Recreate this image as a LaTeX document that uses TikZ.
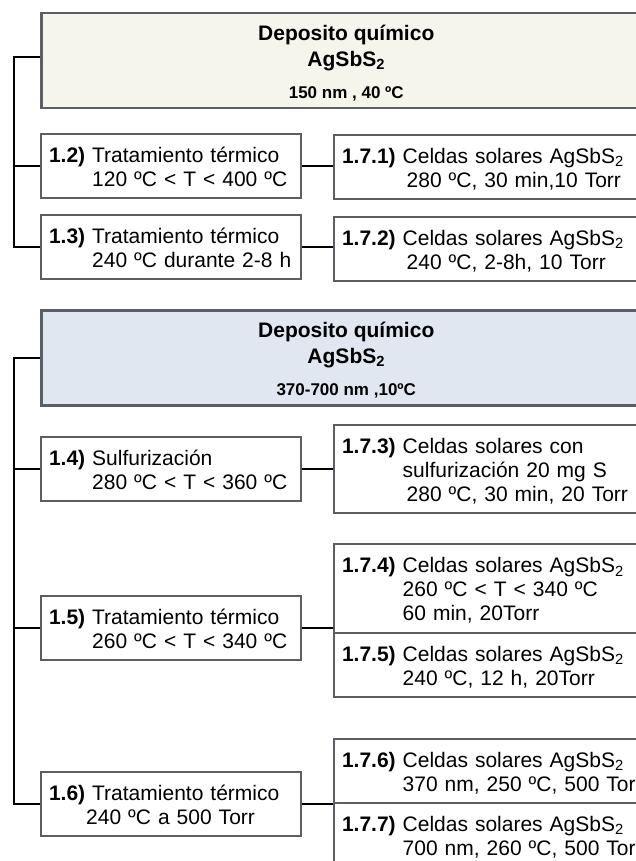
\documentclass[tikz,border=0pt]{standalone}
\usepackage{fontspec}
\setmainfont{Liberation Sans}

\definecolor{crema}{HTML}{F6F5EC}
\definecolor{azulclaro}{HTML}{E0E7F0}
\definecolor{borde}{HTML}{5B5E64}

\tikzset{
    caja/.style={draw=borde, line width=2pt, fill=white, anchor=north west,
        minimum height=64pt, inner xsep=8pt, inner ysep=0pt, text width=244pt,
        align=left, text depth=0pt, font=\fontsize{21}{24}\selectfont},
    celda/.style={caja, text width=311pt},
    deposito/.style={draw=borde, line width=2.5pt, anchor=north west,
        minimum width=610pt, minimum height=95pt, inner sep=0pt, text depth=0pt,
        font=\bfseries\fontsize{21}{24}\selectfont},
    enlace/.style={black, line width=2pt}
}

\begin{document}
\begin{tikzpicture}[x=1pt, y=-1pt]
    \useasboundingbox (0,0) rectangle (636,861);
    \clip (0,0) rectangle (636,861);

    % Primer deposito
    \node[deposito, fill=crema] (dep1) at (40,12) {\begin{tabular}[b]{@{}c@{}}
        Deposito químico\\[2pt]
        AgSbS\textsubscript{2}\\[8pt]
        {\fontsize{17}{20}\selectfont 150 nm , 40 ºC}
    \end{tabular}};

    \node[caja] (t12) at (40,133) {\begin{tabular}[b]{@{}l@{\ }l@{}}
        \textbf{1.2)} & Tratamiento térmico\\
        & 120 ºC < T < 400 ºC
    \end{tabular}};
    \node[caja] (t13) at (40,214) {\begin{tabular}[b]{@{}l@{\ }l@{}}
        \textbf{1.3)} & Tratamiento térmico\\
        & 240 ºC durante 2-8 h
    \end{tabular}};

    \node[celda, minimum height=64pt] (t171) at (333,134) {\begin{tabular}[b]{@{}l@{\ }l@{}}
        \textbf{1.7.1)} & Celdas solares AgSbS\textsubscript{2}\\
        & \hspace*{4pt}280 ºC, 30 min,10 Torr
    \end{tabular}};
    \node[celda, minimum height=64pt] (t172) at (333,216) {\begin{tabular}[b]{@{}l@{\ }l@{}}
        \textbf{1.7.2)} & Celdas solares AgSbS\textsubscript{2}\\
        & \hspace*{4pt}240 ºC, 2-8h, 10 Torr
    \end{tabular}};

    % Segundo deposito
    \node[deposito, fill=azulclaro] (dep2) at (40,309) {\begin{tabular}[b]{@{}c@{}}
        Deposito químico\\[2pt]
        AgSbS\textsubscript{2}\\[8pt]
        {\fontsize{17}{20}\selectfont 370-700 nm ,10ºC}
    \end{tabular}};

    \node[caja] (t14) at (40,436) {\begin{tabular}[b]{@{}l@{\ }l@{}}
        \textbf{1.4)} & Sulfurización\\
        & 280 ºC < T < 360 ºC
    \end{tabular}};
    \node[caja] (t15) at (40,595) {\begin{tabular}[b]{@{}l@{\ }l@{}}
        \textbf{1.5)} & Tratamiento térmico\\
        & 260 ºC < T < 340 ºC
    \end{tabular}};
    \node[caja] (t16) at (40,771) {\begin{tabular}[b]{@{}l@{\ }l@{}}
        \textbf{1.6)} & Tratamiento térmico\\
        & \hspace*{-6pt}240 ºC a 500 Torr
    \end{tabular}};

    \node[celda, minimum height=88pt] (t173) at (333,424) {\begin{tabular}[b]{@{}l@{\ }l@{}}
        \textbf{1.7.3)} & Celdas solares con\\
        & sulfurización 20 mg S\\
        & \hspace*{4pt}280 ºC, 30 min, 20 Torr
    \end{tabular}};
    \node[celda, minimum height=89pt] (t174) at (333,543) {\begin{tabular}[b]{@{}l@{\ }l@{}}
        \textbf{1.7.4)} & Celdas solares AgSbS\textsubscript{2}\\
        & 260 ºC < T < 340 ºC\\
        & 60 min, 20Torr
    \end{tabular}};
    \node[celda, minimum height=64pt] (t175) at (333,632) {\begin{tabular}[b]{@{}l@{\ }l@{}}
        \textbf{1.7.5)} & Celdas solares AgSbS\textsubscript{2}\\
        & 240 ºC, 12 h, 20Torr
    \end{tabular}};
    \node[celda, minimum height=64pt] (t176) at (333,738) {\begin{tabular}[b]{@{}l@{\ }l@{}}
        \textbf{1.7.6)} & Celdas solares AgSbS\textsubscript{2}\\
        & 370 nm, 250 ºC, 500 Torr
    \end{tabular}};
    \node[celda, minimum height=64pt] (t177) at (333,802) {\begin{tabular}[b]{@{}l@{\ }l@{}}
        \textbf{1.7.7)} & Celdas solares AgSbS\textsubscript{2}\\
        & 700 nm, 260 ºC, 500 Torr
    \end{tabular}};

    % Llaves
    \foreach \n in {t12,t13}
        \draw[enlace] ([yshift=3.5pt]dep1.west) -- ++(-26.5,0) |- (\n.west);
    \foreach \n in {t14,t15,t16}
        \draw[enlace] (dep2.west) -- ++(-26.5,0) |- (\n.west);

    % Enlaces a las celdas
    \foreach \a/\b in {t12/t171, t13/t172, t14/t173, t15/t174, t16/t176}
        \draw[enlace] (\a.east) -- (\a.east -| \b.west);
\end{tikzpicture}
\end{document}
